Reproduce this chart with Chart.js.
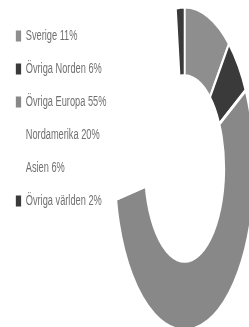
<!DOCTYPE html>
<html>
<head>
<meta charset="utf-8">
<script src="https://cdn.jsdelivr.net/npm/chart.js@4.4.1/dist/chart.umd.min.js"></script>
<style>
  html, body { margin: 0; padding: 0; background: #fff; overflow: hidden; }
  #wrap { position: relative; width: 249px; height: 327px; }
</style>
</head>
<body>
<div id="wrap"><canvas id="regionChart"></canvas></div>
<script>
const regions = ["Sverige", "Övriga Norden", "Övriga Europa", "Nordamerika", "Asien", "Övriga världen"];
const shares = [11, 6, 55, 20, 6, 2];
const sliceColors = ["#8e8e8e", "#3a3a3a", "#888888", "#ffffff", "#ffffff", "#3a3a3a"];

const legendLabels = regions.map((r, i) => `${r} ${shares[i]}%`);

// the original is squeezed sideways: text a bit, the ring a lot
const legendSqueeze = 0.66;
const ringSqueeze = 0.43;

const squeezePlugin = {
    id: "squeeze",
    beforeDraw(chart) {
        chart.ctx.save();
        chart.ctx.scale(legendSqueeze, 1);
    },
    beforeDatasetsDraw(chart) {
        const ctx = chart.ctx;
        ctx.restore();
        const arc = chart.getDatasetMeta(0).data[0];
        ctx.save();
        ctx.translate(arc.x, arc.y);
        ctx.scale(ringSqueeze, 1);
        ctx.translate(-arc.x, -arc.y);
    },
    afterDatasetsDraw(chart) {
        chart.ctx.restore();
    }
};

const baseLabels = Chart.overrides.doughnut.plugins.legend.labels.generateLabels;

new Chart(document.getElementById("regionChart"), {
    type: "doughnut",
    data: {
        labels: legendLabels,
        datasets: [{
            data: shares,
            backgroundColor: sliceColors,
            borderColor: "#ffffff",
            borderWidth: 4,
            clip: false
        }]
    },
    options: {
        responsive: true,
        maintainAspectRatio: false,
        animation: false,
        radius: 162,
        cutout: "57%",
        // legend keeps its full (unsqueezed) width so its text is not clipped;
        // right padding puts the ring centre back where the original has it
        layout: { padding: { top: 10, bottom: -3, left: 5, right: 51 } },
        plugins: {
            tooltip: { enabled: false },
            legend: {
                position: "left",
                align: "start",
                maxWidth: 400,
                labels: {
                    boxWidth: 8,
                    boxHeight: 11,
                    padding: 19,
                    color: "#707070",
                    font: { family: "'Liberation Sans', Arial, sans-serif", size: 14 },
                    generateLabels: chart => baseLabels(chart).map(item => ({ ...item, lineWidth: 0 }))
                }
            }
        }
    },
    plugins: [squeezePlugin]
});
</script>
</body>
</html>
